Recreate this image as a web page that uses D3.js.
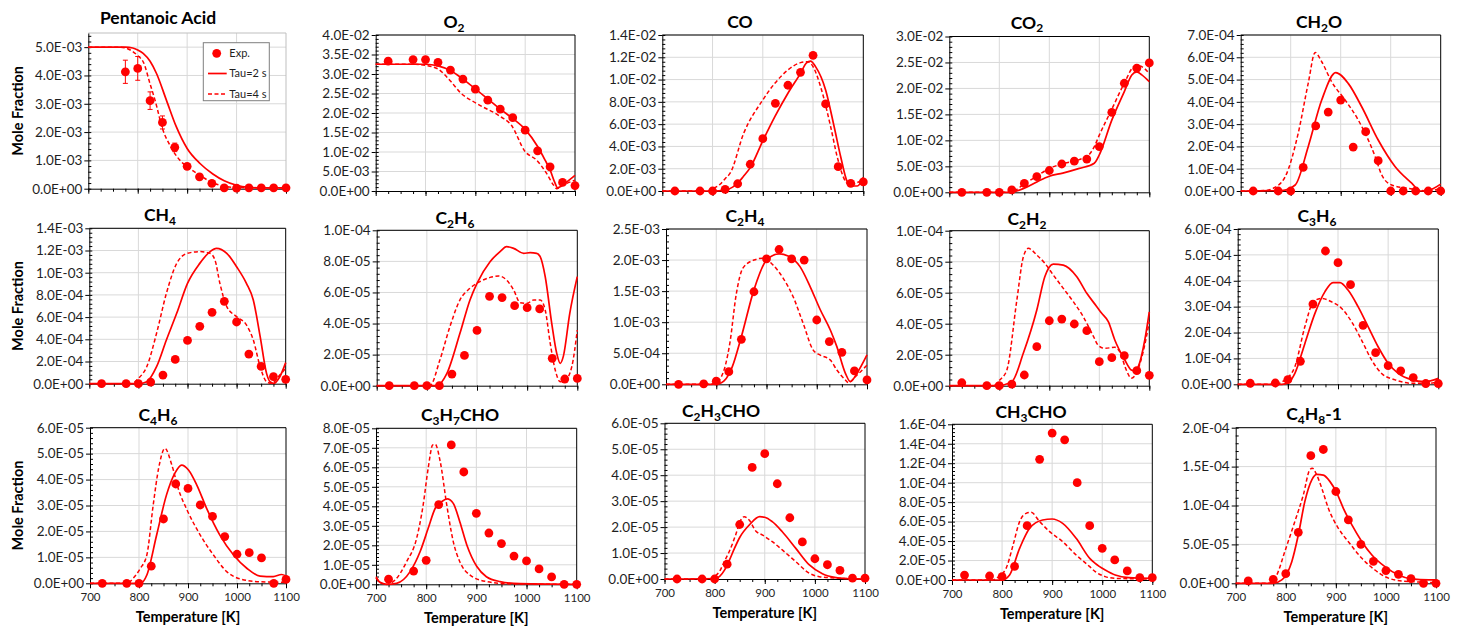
<!DOCTYPE html>
<html><head><meta charset="utf-8">
<script src="https://cdn.jsdelivr.net/npm/d3@7"></script>
<style>body{margin:0;background:#fff;} svg{display:block;}</style>
</head><body><svg id="c" width="1464" height="631"></svg>
<script>
// ---------------- DATA ----------------
const titles = ["Pentanoic Acid","O2","CO","CO2","CH2O","CH4","C2H6","C2H4","C2H2","C3H6","C4H6","C3H7CHO","C2H3CHO","CH3CHO","C4H8-1"];
const yMax  = [5.5e-3,4e-2,1.4e-2,3e-2,7e-4,1.4e-3,1e-4,2.5e-3,1e-4,6e-4,6e-5,8e-5,6e-5,1.6e-4,2e-4];
const yStep = [1e-3,5e-3,2e-3,5e-3,1e-4,2e-4,2e-5,5e-4,2e-5,1e-4,1e-5,1e-5,1e-5,2e-5,5e-5];
const xTicks = [700,800,900,1000,1100];
const xMinorTicks = [700,725,750,775,800,825,850,875,900,925,950,975,1000,1025,1050,1075,1100];
const legendLabels = ["Exp.","Tau=2 s","Tau=4 s"];
const xLabel = "Temperature [K]";
const yLabel = "Mole Fraction";

// experimental temperatures (K)
const T_EXP = [725,775,800,825,850,875,900,925,950,975,1000,1025,1050,1075,1100];

// experimental mole fractions
const expPA   = [null,4.13e-3,4.25e-3,3.11e-3,2.34e-3,1.46e-3,0.79e-3,0.42e-3,0.19e-3,0.03e-3,0.02e-3,0.03e-3,0.03e-3,0.03e-3,0.03e-3];
const errPA   = [null,0.41e-3,0.42e-3,0.31e-3,0.23e-3,0.15e-3,0.08e-3,0.04e-3,0.02e-3,0,0,0,0,0,0];
const expO2   = [3.33e-2,3.37e-2,3.37e-2,3.30e-2,3.10e-2,2.87e-2,2.61e-2,2.33e-2,2.10e-2,1.88e-2,1.56e-2,1.03e-2,0.62e-2,0.22e-2,0.14e-2];
const expCO   = [0,0,0,0.15e-3,0.65e-3,2.4e-3,4.7e-3,7.87e-3,9.49e-3,10.65e-3,12.18e-3,7.81e-3,2.18e-3,0.69e-3,0.81e-3];
const expCO2  = [0,0,0,0.45e-3,1.7e-3,3.0e-3,4.2e-3,5.45e-3,6.0e-3,6.4e-3,8.8e-3,15.4e-3,21.0e-3,23.9e-3,24.9e-3];
const expCH2O = [0,0,0,1.06e-4,2.92e-4,3.54e-4,4.08e-4,1.97e-4,2.66e-4,1.36e-4,0,0,0,0,0];
const expCH4  = [0,0,0,0.15e-4,0.78e-4,2.19e-4,3.9e-4,5.17e-4,6.43e-4,7.42e-4,5.56e-4,2.67e-4,1.56e-4,0.63e-4,0.39e-4];
const expC2H6 = [0,0,0,0,0.75e-5,1.95e-5,3.56e-5,5.75e-5,5.67e-5,5.15e-5,5.02e-5,4.94e-5,1.76e-5,0.43e-5,0.47e-5];
const expC2H4 = [0,0.08e-4,0.5e-4,2.03e-4,7.24e-4,14.9e-4,20.2e-4,21.7e-4,20.2e-4,20.0e-4,10.35e-4,6.87e-4,5.15e-4,2.15e-4,0.7e-4];
const expC2H2 = [0.19e-5,0,0,0.1e-5,0.69e-5,2.52e-5,4.19e-5,4.3e-5,3.98e-5,3.55e-5,1.55e-5,1.81e-5,1.94e-5,0.97e-5,0.67e-5];
const expC3H6 = [0.04e-4,0.05e-4,0.18e-4,0.89e-4,3.1e-4,5.15e-4,4.7e-4,3.85e-4,2.28e-4,1.22e-4,0.72e-4,0.52e-4,0.26e-4,0.03e-4,0.03e-4];
const expC4H6 = [0,0,0,0.66e-5,2.48e-5,3.83e-5,3.66e-5,3.02e-5,2.58e-5,1.8e-5,1.12e-5,1.18e-5,0.98e-5,0,0.15e-5];
const expC3H7CHO = [0.26e-5,0.68e-5,1.23e-5,4.09e-5,7.15e-5,5.76e-5,3.64e-5,2.63e-5,2.09e-5,1.45e-5,1.2e-5,0.79e-5,0.38e-5,0,0];
const expC2H3CHO = [0,0,0,0.57e-5,2.1e-5,4.3e-5,4.83e-5,3.67e-5,2.36e-5,1.43e-5,0.78e-5,0.55e-5,0.33e-5,0.03e-5,0.03e-5];
const expCH3CHO  = [0.51e-5,0.41e-5,0.34e-5,1.4e-5,5.58e-5,12.4e-5,15.1e-5,14.4e-5,10.0e-5,5.58e-5,3.26e-5,2.06e-5,0.93e-5,0.24e-5,0.24e-5];
const expC4H8 = [0.3e-5,0.51e-5,1.24e-5,6.55e-5,16.4e-5,17.2e-5,11.8e-5,8.14e-5,5.01e-5,2.83e-5,1.63e-5,1.16e-5,0.6e-5,0,0];

// model: Tau = 2 s  ([T, mole fraction])
const tau2PA = [[700,5.0e-3],[775,5.0e-3],[790,4.97e-3],[800,4.9e-3],[811,4.78e-3],[825,4.5e-3],[838,4.07e-3],[858,3.13e-3],[878,2.19e-3],[900,1.42e-3],[926,0.89e-3],[952,0.52e-3],[975,0.28e-3],[1000,0.12e-3],[1025,0.05e-3],[1050,0.03e-3],[1100,0.03e-3]];
const tau2O2 = [[700,3.25e-2],[800,3.25e-2],[825,3.21e-2],[850,3.09e-2],[875,2.87e-2],[900,2.62e-2],[925,2.36e-2],[950,2.10e-2],[975,1.86e-2],[1000,1.58e-2],[1025,1.14e-2],[1040,0.79e-2],[1050,0.54e-2],[1060,0.20e-2],[1065,0.08e-2],[1080,0.20e-2],[1100,0.40e-2]];
const tau2CO = [[700,0],[800,0],[825,0.08e-3],[840,0.35e-3],[850,0.7e-3],[861,1.28e-3],[875,2.1e-3],[900,4.5e-3],[924,6.67e-3],[950,8.77e-3],[975,10.56e-3],[987,11.5e-3],[995,11.66e-3],[1005,11.16e-3],[1025,9.07e-3],[1042,5.77e-3],[1055,3.08e-3],[1068,0.83e-3],[1077,0.45e-3],[1088,0.45e-3],[1100,1.23e-3]];
const tau2CO2 = [[700,0],[820,0],[850,0.8e-3],[875,2.0e-3],[900,3.1e-3],[927,3.7e-3],[960,4.6e-3],[990,5.6e-3],[1000,7.2e-3],[1025,13.9e-3],[1050,19.4e-3],[1065,22.6e-3],[1075,23.2e-3],[1085,22.6e-3],[1100,21.3e-3]];
const tau2CH2O = [[700,0],[782,0.02e-4],[809,0.27e-4],[835,1.99e-4],[862,4.08e-4],[890,5.31e-4],[915,4.83e-4],[942,3.78e-4],[975,2.29e-4],[1009,1.09e-4],[1042,0.35e-4],[1059,0],[1075,0.03e-4],[1100,0.31e-4]];
const tau2CH4 = [[700,0],[800,0],[817,0.18e-4],[837,1.53e-4],[857,3.94e-4],[878,6.34e-4],[900,9.04e-4],[925,10.84e-4],[946,11.9e-4],[959,12.2e-4],[980,11.75e-4],[1000,10.54e-4],[1020,9.04e-4],[1034,7.54e-4],[1048,4.24e-4],[1061,0.93e-4],[1068,0.18e-4],[1075,0.03e-4],[1088,0.63e-4],[1100,1.9e-4]];
const tau2C2H6 = [[700,0],[820,0],[840,0.79e-5],[866,3.37e-5],[886,5.52e-5],[900,6.59e-5],[926,7.98e-5],[946,8.63e-5],[959,8.95e-5],[973,8.84e-5],[993,8.52e-5],[1006,8.56e-5],[1019,8.52e-5],[1026,8.3e-5],[1036,7.02e-5],[1049,4.01e-5],[1059,2.08e-5],[1066,1.44e-5],[1072,1.87e-5],[1085,4.66e-5],[1100,7.02e-5]];
const tau2C2H4 = [[700,0],[790,0],[805,0.1e-4],[815,0.5e-4],[825,1.6e-4],[832,2.84e-4],[850,7.67e-4],[875,15.2e-4],[900,20.0e-4],[925,21.0e-4],[943,20.65e-4],[967,18.9e-4],[987,15.7e-4],[1007,12.0e-4],[1027,8.74e-4],[1040,6.06e-4],[1057,1.77e-4],[1067,0.43e-4],[1080,1.77e-4],[1100,4.72e-4]];
const tau2C2H2 = [[700,0],[795,0],[825,0.26e-5],[848,2.09e-5],[875,4.88e-5],[891,7.03e-5],[908,7.85e-5],[928,7.78e-5],[955,7.03e-5],[975,5.96e-5],[995,5.1e-5],[1004,4.7e-5],[1018,4.13e-5],[1031,2.95e-5],[1051,1.66e-5],[1064,1.01e-5],[1071,0.95e-5],[1078,1.23e-5],[1091,2.95e-5],[1100,4.77e-5]];
const tau2C3H6 = [[700,0],[788,0],[801,0.06e-4],[814,0.42e-4],[834,1.58e-4],[854,2.74e-4],[874,3.58e-4],[890,3.93e-4],[904,3.93e-4],[920,3.64e-4],[940,3.0e-4],[960,2.23e-4],[980,1.45e-4],[1000,0.81e-4],[1020,0.42e-4],[1047,0.17e-4],[1073,0.1e-4],[1100,0.23e-4]];
const tau2C4H6 = [[700,0],[803,0],[816,0.32e-5],[836,1.86e-5],[856,3.4e-5],[873,4.24e-5],[887,4.56e-5],[901,4.37e-5],[918,3.79e-5],[938,2.89e-5],[965,1.86e-5],[993,1.09e-5],[1020,0.58e-5],[1047,0.28e-5],[1074,0.26e-5],[1091,0.34e-5],[1100,0.28e-5]];
const tau2C3H7CHO = [[700,0.34e-5],[708,0.1e-5],[721,0],[741,0.05e-5],[768,0.65e-5],[788,1.68e-5],[804,2.87e-5],[818,3.9e-5],[831,4.24e-5],[842,4.38e-5],[854,4.15e-5],[867,3.21e-5],[881,2.02e-5],[901,0.91e-5],[920,0.39e-5],[947,0.14e-5],[987,0.03e-5],[1100,0]];
const tau2C2H3CHO = [[700,0],[800,0.02e-5],[810,0.1e-5],[820,0.35e-5],[830,0.75e-5],[840,1.2e-5],[850,1.6e-5],[870,2.1e-5],[890,2.4e-5],[900,2.38e-5],[915,2.21e-5],[935,1.82e-5],[962,1.18e-5],[989,0.54e-5],[1015,0.2e-5],[1042,0.05e-5],[1060,0.02e-5],[1100,0]];
const tau2CH3CHO = [[700,0],[800,0],[815,0.51e-5],[835,3.25e-5],[855,5.31e-5],[881,6.17e-5],[900,6.27e-5],[921,5.82e-5],[948,4.28e-5],[975,2.23e-5],[986,1.71e-5],[1006,1.03e-5],[1026,0.51e-5],[1053,0.24e-5],[1100,0.17e-5]];
const tau2C4H8 = [[700,0],[775,0],[792,0.43e-5],[812,2.78e-5],[825,6.21e-5],[838,10.5e-5],[852,13.3e-5],[862,14.0e-5],[875,13.9e-5],[888,13.1e-5],[902,11.6e-5],[915,9.64e-5],[932,7.5e-5],[952,5.35e-5],[972,3.64e-5],[998,2.14e-5],[1025,1.07e-5],[1051,0.56e-5],[1085,0.43e-5],[1100,0.43e-5]];

// model: Tau = 4 s
const tau4PA = [[700,5.0e-3],[765,5.0e-3],[785,4.9e-3],[800,4.7e-3],[812,4.45e-3],[825,3.7e-3],[835,3.13e-3],[851,2.07e-3],[865,1.54e-3],[885,1.01e-3],[900,0.78e-3],[925,0.48e-3],[952,0.21e-3],[980,0.07e-3],[1000,0.04e-3],[1100,0.03e-3]];
const tau4O2 = [[700,3.25e-2],[780,3.25e-2],[800,3.22e-2],[825,3.13e-2],[850,2.82e-2],[870,2.52e-2],[903,2.24e-2],[950,1.91e-2],[972,1.69e-2],[1000,1.01e-2],[1023,0.79e-2],[1043,0.45e-2],[1057,0.15e-2],[1063,0.06e-2],[1075,0.15e-2],[1088,0.22e-2],[1100,0.28e-2]];
const tau4CO = [[700,0],[790,0],[800,0.2e-3],[815,0.6e-3],[825,1.1e-3],[835,1.6e-3],[862,5.18e-3],[900,8.17e-3],[924,9.67e-3],[950,10.86e-3],[975,11.52e-3],[990,11.6e-3],[1000,11.16e-3],[1015,9.36e-3],[1035,5.77e-3],[1048,3.08e-3],[1065,0.83e-3],[1075,0.5e-3],[1085,0.7e-3],[1100,0.99e-3]];
const tau4CO2 = [[700,0],[815,0],[825,0.1e-3],[850,1.6e-3],[875,3.1e-3],[900,4.6e-3],[927,5.5e-3],[960,6.3e-3],[980,7.3e-3],[991,9.0e-3],[1000,11.0e-3],[1025,16.0e-3],[1050,21.0e-3],[1070,24.2e-3],[1080,24.3e-3],[1100,22.9e-3]];
const tau4CH2O = [[700,0],[750,0.02e-4],[765,0.12e-4],[789,0.64e-4],[815,2.59e-4],[835,4.83e-4],[849,6.22e-4],[862,5.8e-4],[882,4.9e-4],[909,4.08e-4],[935,3.19e-4],[969,1.54e-4],[982,0.72e-4],[1002,0.27e-4],[1035,0.12e-4],[1075,0],[1100,0.12e-4]];
const tau4CH4 = [[700,0],[786,0],[800,0.48e-4],[817,1.53e-4],[837,4.54e-4],[857,8.14e-4],[878,10.84e-4],[900,11.75e-4],[925,11.9e-4],[946,11.75e-4],[956,11.14e-4],[966,9.04e-4],[980,6.94e-4],[1000,6.04e-4],[1020,5.29e-4],[1034,3.94e-4],[1048,1.53e-4],[1061,0.18e-4],[1071,0.03e-4],[1085,0.63e-4],[1100,1.38e-4]];
const tau4C2H6 = [[700,0],[806,0],[826,1.65e-5],[846,3.8e-5],[866,5.52e-5],[886,6.27e-5],[906,6.7e-5],[926,6.97e-5],[943,7.06e-5],[959,6.8e-5],[973,6.16e-5],[986,5.34e-5],[1000,5.3e-5],[1013,5.52e-5],[1026,5.52e-5],[1036,4.87e-5],[1046,2.73e-5],[1056,1.01e-5],[1066,0.26e-5],[1076,0.36e-5],[1089,1.22e-5],[1100,3.58e-5]];
const tau4C2H4 = [[700,0],[785,0],[800,0.3e-4],[810,1.2e-4],[818,3.0e-4],[827,6.6e-4],[840,14.6e-4],[853,18.7e-4],[875,20.0e-4],[893,20.3e-4],[913,19.2e-4],[933,17.1e-4],[953,14.1e-4],[973,9.8e-4],[993,5.5e-4],[1007,4.7e-4],[1027,3.9e-4],[1040,2.3e-4],[1057,0.7e-4],[1063,0.27e-4],[1077,1.23e-4],[1100,3.1e-4]];
const tau4C2H2 = [[700,0],[788,0],[801,0.37e-5],[815,1.0e-5],[835,5.5e-5],[848,8.3e-5],[858,8.86e-5],[875,8.43e-5],[891,7.9e-5],[908,7.14e-5],[928,6.28e-5],[948,5.42e-5],[968,4.45e-5],[988,3.2e-5],[998,2.6e-5],[1011,2.41e-5],[1031,2.48e-5],[1041,2.19e-5],[1054,1.01e-5],[1064,0.48e-5],[1074,0.8e-5],[1087,2.09e-5],[1100,4.13e-5]];
const tau4C3H6 = [[700,0],[774,0],[794,0.17e-4],[814,0.68e-4],[834,2.23e-4],[851,3.19e-4],[867,3.32e-4],[887,3.19e-4],[907,2.94e-4],[927,2.42e-4],[947,1.71e-4],[967,0.94e-4],[987,0.42e-4],[1014,0.17e-4],[1047,0.04e-4],[1080,0.04e-4],[1100,0.1e-4]];
const tau4C4H6 = [[700,0],[776,0],[788,0.19e-5],[803,0.58e-5],[816,1.09e-5],[829,3.02e-5],[840,4.43e-5],[853,5.2e-5],[867,4.56e-5],[881,3.6e-5],[898,2.83e-5],[925,1.86e-5],[952,1.09e-5],[979,0.45e-5],[1006,0.17e-5],[1047,0.06e-5],[1100,0.04e-5]];
const tau4C3H7CHO = [[700,0.39e-5],[711,0.05e-5],[721,0],[738,0.22e-5],[761,1.16e-5],[781,2.36e-5],[794,4.07e-5],[804,5.95e-5],[813,7.15e-5],[818,7.18e-5],[828,6.29e-5],[841,4.07e-5],[854,2.19e-5],[867,1.16e-5],[887,0.48e-5],[920,0.14e-5],[967,0.02e-5],[1100,0]];
const tau4C2H3CHO = [[700,0],[790,0],[800,0.1e-5],[810,0.3e-5],[820,0.7e-5],[829,1.05e-5],[842,1.7e-5],[852,2.27e-5],[859,2.4e-5],[869,2.27e-5],[882,1.85e-5],[895,1.7e-5],[915,1.44e-5],[935,1.12e-5],[962,0.67e-5],[989,0.22e-5],[1009,0.09e-5],[1049,0.03e-5],[1100,0]];
const tau4CH3CHO = [[700,0],[780,0],[788,0.17e-5],[808,1.2e-5],[822,3.6e-5],[835,6.0e-5],[848,6.85e-5],[858,6.95e-5],[875,6.0e-5],[895,4.97e-5],[921,3.94e-5],[948,2.57e-5],[975,1.37e-5],[986,0.86e-5],[1006,0.35e-5],[1026,0.17e-5],[1100,0.1e-5]];
const tau4C4H8 = [[700,0],[765,0],[782,1.07e-5],[798,4.07e-5],[818,7.92e-5],[835,11.35e-5],[848,14.6e-5],[853,14.8e-5],[862,13.9e-5],[872,12.2e-5],[885,9.64e-5],[905,7.07e-5],[925,5.35e-5],[952,3.21e-5],[978,1.71e-5],[998,0.86e-5],[1032,0.3e-5],[1100,0.1e-5]];

// ---------------- LAYOUT (pixels) ----------------
// [left, right, top, bottom, titleX, titleY]
const layout = [
 [88.3,286,33,188.7,158,24],
 [375.7,575,35,191,454,28],
 [662.3,863.3,35,191,740,28],
 [949.3,1149.3,36.5,192.3,1027,28.5],
 [1240.7,1440.7,35,191,1319,28],
 [89.3,285.7,228.3,383.7,160,221],
 [376.7,577.3,230.3,385.7,455,224],
 [666,867,229,384.3,745,222],
 [949.3,1149.3,230.7,385.7,1027,225],
 [1237.7,1438.3,229,384.3,1317,222],
 [90,286,427.7,583.3,158,421],
 [376,576.7,428.3,584.3,460,421],
 [664.5,865,423.3,579,721,417],
 [952,1152.3,424.3,580,1031,418],
 [1235.7,1436,427.7,583.3,1314,420]
];
const frameColor = ["#BFBFBF","#000","#000","#000","#000","#000","#000","#000","#000","#000","#000","#000","#000","#000","#000"];

const expSets  = [expPA,expO2,expCO,expCO2,expCH2O,expCH4,expC2H6,expC2H4,expC2H2,expC3H6,expC4H6,expC3H7CHO,expC2H3CHO,expCH3CHO,expC4H8];
const tau2Sets = [tau2PA,tau2O2,tau2CO,tau2CO2,tau2CH2O,tau2CH4,tau2C2H6,tau2C2H4,tau2C2H2,tau2C3H6,tau2C4H6,tau2C3H7CHO,tau2C2H3CHO,tau2CH3CHO,tau2C4H8];
const tau4Sets = [tau4PA,tau4O2,tau4CO,tau4CO2,tau4CH2O,tau4CH4,tau4C2H6,tau4C2H4,tau4C2H2,tau4C3H6,tau4C4H6,tau4C3H7CHO,tau4C2H3CHO,tau4CH3CHO,tau4C4H8];
const errSets  = [errPA];

// ---------------- DRAW ----------------
const RED = "#FF0000";
const FONT = "Lato, 'Open Sans', 'DejaVu Sans', sans-serif";
const svg = d3.select("#c").attr("font-family", FONT);

function fmtE(v){
  if (Math.abs(v) < 1e-15) return "0.0E+00";
  let e = Math.floor(Math.log10(Math.abs(v)) + 1e-9);
  let m = v / Math.pow(10, e);
  if (Math.round(m*10)/10 >= 10) { m /= 10; e++; }
  return m.toFixed(1) + "E" + (e < 0 ? "-" : "+") + String(Math.abs(e)).padStart(2, "0");
}

function addTitle(sel, name){
  const toks = name.match(/[A-Za-z]+|\d+|[^A-Za-z\d]+/g);
  let prevLetter = false, shifted = false;
  toks.forEach(t => {
    const isDigit = /^\d+$/.test(t);
    if (isDigit && prevLetter) {
      sel.append("tspan").attr("font-size", 12).attr("dy", shifted ? 0 : 3.5).text(t);
      shifted = true;
    } else {
      sel.append("tspan").attr("dy", shifted ? -3.5 : 0).text(t);
      shifted = false;
    }
    prevLetter = /^[A-Za-z]+$/.test(t);
  });
}

titles.forEach((name, i) => {
  const [L, R, Tp, B, tx, ty] = layout[i];
  const row = Math.floor(i / 5), col = i % 5;
  const x = d3.scaleLinear().domain([700, 1100]).range([L, R]);
  const y = d3.scaleLinear().domain([0, yMax[i]]).range([B, Tp]);
  const g = svg.append("g");

  const nMaj = Math.floor(yMax[i] / yStep[i] + 1e-6);
  const majors = d3.range(0, nMaj + 1).map(k => +(k * yStep[i]).toPrecision(10));
  const mStep = yStep[i] / 5;
  const minors = d3.range(0, Math.round(yMax[i] / mStep) + 1).map(k => +(k * mStep).toPrecision(10));

  // gridlines
  g.append("g").selectAll("line").data(majors.filter(v => v > 0)).join("line")
    .attr("x1", L).attr("x2", R).attr("y1", d => y(d)).attr("y2", d => y(d))
    .attr("stroke", "#D9D9D9").attr("stroke-width", 1);
  g.append("g").selectAll("line").data(xTicks.slice(1, -1)).join("line")
    .attr("x1", d => x(d)).attr("x2", d => x(d)).attr("y1", Tp).attr("y2", B)
    .attr("stroke", "#D9D9D9").attr("stroke-width", 1);
  // frame top/right
  g.append("path").attr("d", `M${L},${Tp}H${R}V${B}`).attr("fill", "none")
    .attr("stroke", frameColor[i]).attr("stroke-width", 1);

  // y axis
  const yAx = g.append("g").attr("transform", `translate(${L},0)`)
    .call(d3.axisLeft(y).tickValues(majors).tickSize(4).tickSizeOuter(0).tickPadding(2).tickFormat(fmtE));
  yAx.attr("font-family", FONT).attr("font-size", 13.5);
  yAx.selectAll("text").attr("fill", "#1F1F1F");
  g.append("g").attr("transform", `translate(${L},0)`)
    .call(d3.axisLeft(y).tickValues(minors).tickSize(-3).tickSizeOuter(0).tickFormat(""))
    .call(a => a.select(".domain").remove());

  // x axis
  const xAx = g.append("g").attr("transform", `translate(0,${B})`)
    .call(d3.axisBottom(x).tickValues(xTicks).tickSize(5).tickSizeOuter(0).tickPadding(5)
      .tickFormat(row === 2 ? d3.format("d") : ""));
  xAx.attr("font-family", FONT).attr("font-size", 11.5);
  xAx.selectAll("text").attr("fill", "#1F1F1F");
  g.append("g").attr("transform", `translate(0,${B})`)
    .call(d3.axisBottom(x).tickValues(xMinorTicks).tickSize(3).tickSizeOuter(0).tickFormat(""))
    .call(a => a.select(".domain").remove());

  // model lines
  const line = d3.line().x(d => x(d[0])).y(d => y(d[1])).curve(d3.curveMonotoneX);
  g.append("path").datum(tau2Sets[i]).attr("d", line).attr("fill", "none")
    .attr("stroke", RED).attr("stroke-width", 1.7);
  g.append("path").datum(tau4Sets[i]).attr("d", line).attr("fill", "none")
    .attr("stroke", RED).attr("stroke-width", 1.5).attr("stroke-dasharray", "4,2.5");

  // experimental points
  const pts = T_EXP.map((t, k) => ({t, v: expSets[i][k], e: errSets[i] ? errSets[i][k] : null}))
    .filter(d => d.v !== null);
  const eb = pts.filter(d => d.e);
  g.append("g").selectAll("path").data(eb).join("path")
    .attr("d", d => {
      const cx = x(d.t), y1 = y(d.v + d.e), y2 = y(d.v - d.e);
      return `M${cx},${y1}V${y2}M${cx-2.5},${y1}H${cx+2.5}M${cx-2.5},${y2}H${cx+2.5}`;
    })
    .attr("stroke", RED).attr("stroke-width", 1).attr("fill", "none");
  g.append("g").selectAll("circle").data(pts).join("circle")
    .attr("cx", d => x(d.t)).attr("cy", d => y(d.v)).attr("r", 4.4).attr("fill", RED);

  // title
  const tt = g.append("text").attr("x", tx).attr("y", ty).attr("text-anchor", "middle")
    .attr("font-weight", "bold").attr("font-size", 17.5).attr("fill", "#000");
  addTitle(tt, name);

  // axis labels
  if (col === 0) {
    g.append("text").attr("transform", `translate(18,${(Tp + B) / 2}) rotate(-90)`)
      .attr("dy", "0.35em")
      .attr("text-anchor", "middle").attr("font-weight", "bold").attr("font-size", 14.5)
      .attr("fill", "#000").text(yLabel);
  }
  if (row === 2) {
    g.append("text").attr("x", (L + R) / 2).attr("y", B + 38.5).attr("text-anchor", "middle")
      .attr("font-weight", "bold").attr("font-size", 14.5).attr("fill", "#000").text(xLabel);
  }
});

// legend (first panel)
const lg = svg.append("g");
lg.append("rect").attr("x", 203.3).attr("y", 42.7).attr("width", 66).attr("height", 58)
  .attr("fill", "#fff").attr("stroke", "#7F7F7F").attr("stroke-width", 1);
const ly = [53.3, 73.5, 94];
lg.append("circle").attr("cx", 216.7).attr("cy", ly[0]).attr("r", 4.4).attr("fill", RED);
lg.append("line").attr("x1", 208).attr("x2", 226.7).attr("y1", ly[1]).attr("y2", ly[1])
  .attr("stroke", RED).attr("stroke-width", 1.7);
lg.append("line").attr("x1", 208).attr("x2", 226.7).attr("y1", ly[2]).attr("y2", ly[2])
  .attr("stroke", RED).attr("stroke-width", 1.5).attr("stroke-dasharray", "4,2.5");
lg.selectAll("text").data(legendLabels).join("text")
  .attr("x", 229.3).attr("y", (d, k) => ly[k]).attr("dy", "0.35em")
  .attr("font-size", 11).attr("fill", "#1F1F1F").text(d => d);
</script>
</body></html>
